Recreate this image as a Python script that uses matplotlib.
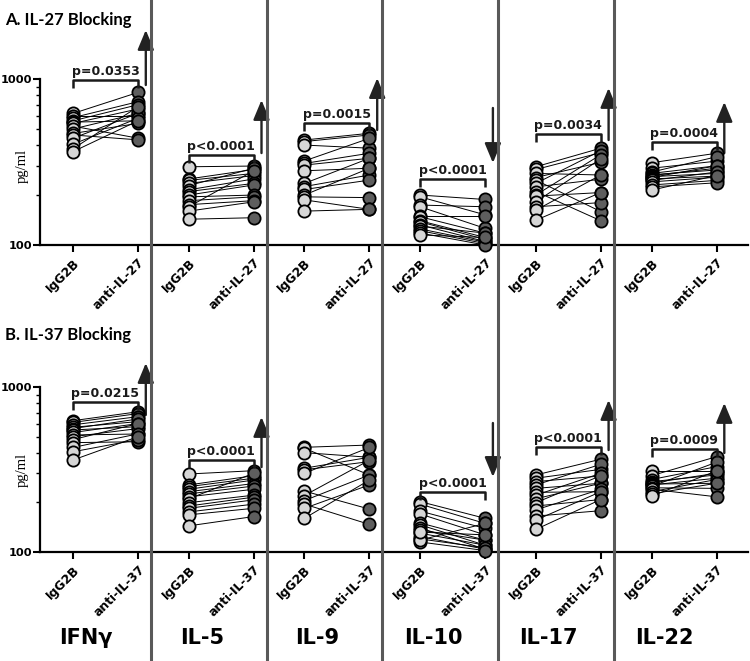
import matplotlib
matplotlib.use('Agg')
import matplotlib.pyplot as plt
from matplotlib.lines import Line2D
from matplotlib.transforms import blended_transform_factory

# ---- data (pg/ml), one entry per donor; same index = same donor ----
cytokines = ['IFNγ', 'IL-5', 'IL-9', 'IL-10', 'IL-17', 'IL-22']

# A. IL-27 blocking
a_ifng_igg = [620, 600, 585, 560, 550, 540, 520, 500, 470, 460, 440, 405, 380, 365]
a_ifng_anti = [830, 600, 730, 700, 560, 660, 440, 620, 540, 430, 620, 580, 680, 560]
a_il5_igg = [296, 250, 245, 235, 228, 215, 210, 200, 195, 185, 175, 170, 160, 143]
a_il5_anti = [299, 285, 270, 262, 290, 250, 235, 230, 200, 195, 185, 280, 182, 146]
a_il9_igg = [429, 420, 400, 321, 310, 303, 280, 235, 225, 216, 200, 195, 187, 160]
a_il9_anti = [471, 460, 383, 439, 357, 333, 290, 333, 264, 246, 290, 193, 164, 164]
a_il10_igg = [200, 195, 174, 170, 150, 148, 140, 138, 132, 130, 125, 122, 118, 115]
a_il10_anti = [188, 152, 170, 126, 150, 118, 111, 108, 105, 118, 104, 102, 100, 111]
a_il17_igg = [296, 285, 270, 255, 246, 235, 224, 210, 200, 197, 182, 170, 162, 141]
a_il17_anti = [383, 360, 264, 315, 159, 370, 249, 140, 350, 207, 330, 180, 264, 207]
a_il22_igg = [313, 290, 275, 270, 265, 262, 258, 255, 250, 245, 240, 230, 224, 214]
a_il22_anti = [357, 320, 340, 300, 283, 290, 270, 300, 260, 275, 256, 245, 237, 262]

# B. IL-37 blocking
b_ifng_igg = [625, 610, 590, 570, 560, 549, 530, 512, 500, 480, 460, 430, 405, 361]
b_ifng_anti = [708, 690, 661, 617, 640, 575, 600, 519, 560, 600, 466, 520, 480, 500]
b_il5_igg = [297, 255, 249, 240, 232, 225, 216, 210, 199, 190, 184, 175, 168, 144]
b_il5_anti = [311, 290, 280, 273, 260, 251, 240, 300, 221, 215, 207, 195, 184, 164]
b_il9_igg = [431, 425, 400, 322, 315, 300, 234, 220, 205, 195, 184, 160]
b_il9_anti = [445, 293, 375, 375, 353, 430, 182, 360, 293, 147, 255, 273]
b_il10_igg = [202, 195, 177, 170, 150, 146, 140, 136, 130, 124, 120, 115, 118, 132]
b_il10_anti = [160, 149, 139, 127, 118, 110, 104, 118, 110, 104, 106, 102, 149, 127]
b_il17_igg = [293, 280, 267, 255, 243, 230, 221, 210, 199, 190, 180, 165, 156, 137]
b_il17_anti = [365, 317, 289, 340, 261, 232, 300, 261, 290, 208, 240, 178, 232, 208]
b_il22_igg = [311, 290, 275, 267, 262, 258, 255, 250, 245, 240, 232, 225, 218]
b_il22_anti = [311, 378, 329, 293, 300, 261, 280, 350, 243, 216, 275, 261, 310]

a_pvals = ['p=0.0353', 'p<0.0001', 'p=0.0015', 'p<0.0001', 'p=0.0034', 'p=0.0004']
b_pvals = ['p=0.0215', 'p<0.0001', None, 'p<0.0001', 'p<0.0001', 'p=0.0009']
a_bracket = [985, 348, 543, 250, 466, 419]
b_bracket = [810, 361, None, 232, 431, 419]
# trend arrows: (start, tip) in pg/ml
a_arrows = [(920, 1973), (358, 747), (493, 1013), (669, 312), (429, 883), (358, 727)]
b_arrows = [(677, 1397), (327, 658), None, (605, 285), (415, 834), (398, 800)]

panels = [
    ('A. IL-27 Blocking', 'anti-IL-27',
     [a_ifng_igg, a_il5_igg, a_il9_igg, a_il10_igg, a_il17_igg, a_il22_igg],
     [a_ifng_anti, a_il5_anti, a_il9_anti, a_il10_anti, a_il17_anti, a_il22_anti],
     a_pvals, a_bracket, a_arrows),
    ('B. IL-37 Blocking', 'anti-IL-37',
     [b_ifng_igg, b_il5_igg, b_il9_igg, b_il10_igg, b_il17_igg, b_il22_igg],
     [b_ifng_anti, b_il5_anti, b_il9_anti, b_il10_anti, b_il17_anti, b_il22_anti],
     b_pvals, b_bracket, b_arrows),
]

# ---- layout (pixels of the 750x661 canvas) ----
W, H = 750, 661
gap = 1.78
# (y of "100", top of axes, px per decade, title baseline, ylabel centre)
geom = [(245, 20, 166, 25, 166), (552, 330, 165, 340, 470)]

fig = plt.figure(figsize=(W / 100, H / 100), dpi=100)
bold = dict(family='DejaVu Sans', weight='bold')

axes = []
for (title, anti_lab, igg_sets, anti_sets, pvals, brackets, arrows), (y100, ytop, dec, tb, yl) in zip(panels, geom):
    ax = fig.add_axes([40 / W, (H - y100) / H, 708 / W, (y100 - ytop) / H])
    axes.append(ax)
    ax.set_yscale('log')
    ax.set_ylim(100, 10 ** (2 + (y100 - ytop) / dec))
    ax.set_xlim(-33 / 65, 675 / 65)
    ax.patch.set_visible(False)

    for s in ['top', 'right']:
        ax.spines[s].set_visible(False)
    ax.spines['left'].set_bounds(100, 1000)
    ax.spines['left'].set_linewidth(1.6)
    ax.spines['bottom'].set_linewidth(1.6)

    ax.set_yticks([100, 1000])
    ax.set_yticklabels(['100', '1000'], fontsize=8.2, **bold)
    ax.set_yticks([200, 300, 400, 500, 600, 700, 800, 900], minor=True)
    ax.yaxis.set_minor_formatter(plt.NullFormatter())
    ax.tick_params(axis='y', which='major', length=5, width=1.5, pad=0.5)
    ax.tick_params(axis='y', which='minor', length=3, width=1.0)

    xt, xl = [], []
    for i, (ig, an) in enumerate(zip(igg_sets, anti_sets)):
        x0, x1 = i * gap, i * gap + 1
        xt += [x0, x1]
        xl += ['IgG2B', anti_lab]
        for v0, v1 in zip(ig, an):
            ax.plot([x0, x1], [v0, v1], color='black', lw=0.7, zorder=2, clip_on=False)
        ax.plot([x0] * len(ig), ig, 'o', ms=8.8, mfc='#d6d6d6', mec='black', mew=1.3,
                zorder=3, clip_on=False)
        ax.plot([x1] * len(an), an, 'o', ms=8.8, mfc='#5e5e5e', mec='black', mew=1.3,
                zorder=4, clip_on=False)

        if pvals[i] is not None:
            b = brackets[i]
            lo = b * 10 ** (-8 / dec)
            ax.plot([x0, x0, x1, x1], [lo, b, b, lo], color='#1a1a1a', lw=1.8,
                    zorder=5, clip_on=False, solid_capstyle='butt')
            ax.text((x0 + x1) / 2, b * 10 ** (2 / dec), pvals[i], ha='center',
                    va='bottom', fontsize=9, color='#1a1a1a', **bold)
        if arrows[i] is not None:
            y0, y1 = arrows[i]
            ax.annotate('', xy=(x1 + 0.12, y1), xytext=(x1 + 0.12, y0),
                        annotation_clip=False,
                        arrowprops=dict(arrowstyle='-|>,head_width=0.25,head_length=0.6',
                                        mutation_scale=20, lw=1.7, color='#222222',
                                        shrinkA=0, shrinkB=0))

    ax.set_xticks(xt)
    ax.set_xticklabels(xl, fontsize=8.8, rotation=45, ha='right', rotation_mode='anchor', **bold)
    ax.tick_params(axis='x', length=5, width=1.5, pad=3)

    fig.text(5 / W, 1 - tb / H, title, family='Lato', weight='bold', fontsize=12,
             va='baseline', ha='left')
    fig.text(22 / W, 1 - yl / H, 'pg/ml', family='Liberation Serif', fontsize=10.5,
             rotation=90, ha='center', va='center')

# panel separators running the full height
tr = blended_transform_factory(axes[0].transData, fig.transFigure)
for i in range(5):
    xs = i * gap + 1.2
    fig.add_artist(Line2D([xs, xs], [0, 1], transform=tr, color='#595959', lw=2.2, zorder=10))

# cytokine names along the bottom
for i, name in enumerate(cytokines):
    fig.text(i * gap + 0.2, 1 - 638 / H, name, transform=tr, ha='center', va='center',
             fontsize=15, **bold)

fig.savefig('out.png', dpi=100)
